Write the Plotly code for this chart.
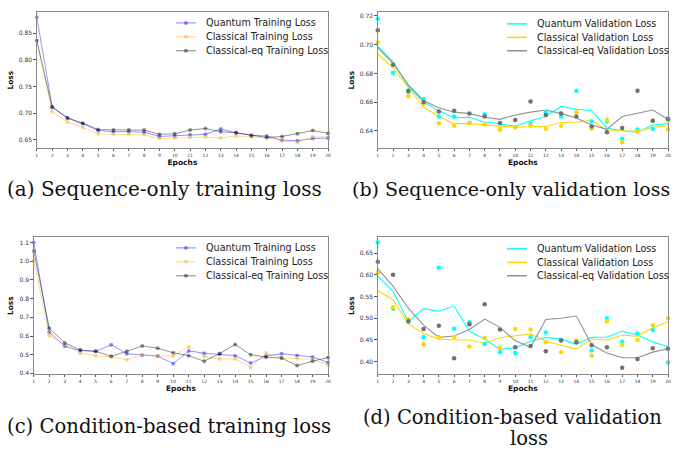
import plotly.graph_objects as go

epochs = list(range(1, 21))

# (a) Sequence-only training loss
a_quantum = [0.880, 0.712, 0.690, 0.680, 0.667, 0.665, 0.665, 0.664, 0.656, 0.657,
             0.659, 0.660, 0.670, 0.663, 0.658, 0.657, 0.649, 0.648, 0.652, 0.653]
a_classical = [0.836, 0.703, 0.683, 0.673, 0.661, 0.660, 0.660, 0.659, 0.652, 0.653,
               0.654, 0.655, 0.653, 0.657, 0.655, 0.654, 0.648, 0.645, 0.655, 0.655]
a_classical_eq = [0.836, 0.711, 0.691, 0.681, 0.669, 0.668, 0.668, 0.668, 0.660, 0.661,
                  0.668, 0.671, 0.665, 0.663, 0.658, 0.654, 0.656, 0.661, 0.667, 0.662]

# (b) Sequence-only validation loss (smoothed lines + raw points)
b_quantum_line = [0.699, 0.688, 0.671, 0.660, 0.654, 0.649, 0.6495, 0.646, 0.645, 0.643,
                  0.647, 0.650, 0.657, 0.655, 0.654, 0.642, 0.640, 0.639, 0.644, 0.645]
b_quantum_pts = [0.718, 0.6805, 0.667, 0.662, 0.650, 0.650, 0.6455, 0.6515, 0.641, 0.6425,
                 0.645, 0.653, 0.650, 0.668, 0.6465, 0.6465, 0.6345, 0.641, 0.6415, 0.6485]
b_classical_line = [0.6935, 0.684, 0.670, 0.6565, 0.650, 0.645, 0.645, 0.644, 0.643, 0.6425,
                    0.643, 0.643, 0.646, 0.646, 0.6475, 0.640, 0.640, 0.6395, 0.6425, 0.6435]
b_classical_pts = [0.7015, 0.686, 0.664, 0.659, 0.6452, 0.6435, 0.6455, 0.6445, 0.641, 0.6425,
                   0.6435, 0.6415, 0.6435, 0.653, 0.6415, 0.6475, 0.632, 0.6395, 0.647, 0.641]
b_classical_eq_line = [0.698, 0.687, 0.672, 0.661, 0.656, 0.653, 0.652, 0.6495, 0.648, 0.651,
                       0.653, 0.6545, 0.652, 0.649, 0.644, 0.641, 0.650, 0.6525, 0.6545, 0.648]
b_classical_eq_pts = [0.710, 0.686, 0.668, 0.660, 0.6535, 0.654, 0.652, 0.650, 0.6455, 0.6475,
                      0.6605, 0.651, 0.652, 0.650, 0.643, 0.639, 0.642, 0.668, 0.647, 0.648]

# (c) Condition-based training loss
c_quantum = [1.100, 0.620, 0.545, 0.522, 0.518, 0.553, 0.505, 0.497, 0.493, 0.452,
             0.520, 0.508, 0.503, 0.495, 0.455, 0.493, 0.505, 0.496, 0.488, 0.458]
c_classical = [1.005, 0.603, 0.555, 0.508, 0.495, 0.488, 0.473, 0.497, 0.493, 0.493,
               0.543, 0.490, 0.477, 0.477, 0.432, 0.510, 0.483, 0.478, 0.475, 0.445]
c_classical_eq = [1.055, 0.642, 0.563, 0.525, 0.518, 0.492, 0.518, 0.547, 0.535, 0.510,
                  0.495, 0.465, 0.506, 0.555, 0.500, 0.487, 0.482, 0.442, 0.465, 0.485]

# (d) Condition-based validation loss (smoothed lines + raw points)
d_quantum_line = [0.597, 0.562, 0.492, 0.522, 0.516, 0.528, 0.470, 0.452, 0.428, 0.432,
                  0.447, 0.456, 0.452, 0.440, 0.456, 0.457, 0.470, 0.462, 0.445, 0.435]
d_quantum_pts = [0.674, 0.522, 0.492, 0.456, 0.616, 0.476, 0.491, 0.441, 0.422, 0.420,
                 0.456, 0.467, 0.450, 0.446, 0.426, 0.500, 0.446, 0.465, 0.473, 0.398]
d_classical_line = [0.564, 0.542, 0.487, 0.465, 0.452, 0.450, 0.450, 0.442, 0.455, 0.460,
                    0.464, 0.447, 0.438, 0.429, 0.452, 0.450, 0.461, 0.459, 0.478, 0.492]
d_classical_pts = [0.605, 0.525, 0.498, 0.440, 0.457, 0.457, 0.435, 0.455, 0.432, 0.475,
                   0.474, 0.445, 0.422, 0.449, 0.414, 0.493, 0.439, 0.450, 0.484, 0.500]
d_classical_eq_line = [0.614, 0.574, 0.523, 0.484, 0.456, 0.459, 0.474, 0.498, 0.479, 0.448,
                       0.433, 0.497, 0.500, 0.505, 0.439, 0.420, 0.409, 0.409, 0.422, 0.430]
d_classical_eq_pts = [0.630, 0.600, 0.493, 0.475, 0.483, 0.408, 0.486, 0.532, 0.474, 0.433,
                      0.436, 0.424, 0.449, 0.445, 0.438, 0.433, 0.386, 0.406, 0.431, 0.430]

train_names = ["Quantum Training Loss", "Classical Training Loss", "Classical-eq Training Loss"]
val_names = ["Quantum Validation Loss", "Classical Validation Loss", "Classical-eq Validation Loss"]
captions = ["(a) Sequence-only training loss", "(b) Sequence-only validation loss",
            "(c) Condition-based training loss", "(d) Condition-based validation", "loss"]

train_colors = ["rgba(0,0,255,0.42)", "rgba(255,165,0,0.42)", "rgba(0,0,0,0.42)"]
val_line_colors = ["#00ffff", "#ffd700", "#919191"]
val_pt_colors = ["#00ffff", "#ffd700", "#707070"]

W, H = 677, 449
fig = go.Figure()

# panel geometry in pixels: (left, right, top, bottom)
panels = [(36, 329, 12, 149), (379, 671, 12, 149), (33, 329, 238, 376), (379, 671, 238, 376)]
yranges = [[0.6337, 0.8898], [0.6278, 0.7228], [0.395, 1.13], [0.371, 0.687]]
ytickvals = [[0.65, 0.70, 0.75, 0.80, 0.85], [0.64, 0.66, 0.68, 0.70, 0.72],
             [0.4, 0.5, 0.6, 0.7, 0.8, 0.9, 1.0, 1.1], [0.40, 0.45, 0.50, 0.55, 0.60, 0.65]]
ytickfmt = [".2f", ".2f", ".1f", ".2f"]
# legend layout per panel: line start, line end, text x, row centres (pixels)
legend_geo = [(176, 196, 204, [23, 37, 51]), (509, 529, 537, [24, 37.5, 51]),
              (176, 196, 204, [249, 263, 277]), (509, 529, 537, [250, 263.5, 277])]


def ax_suffix(i):
    return "" if i == 0 else str(i + 1)


def px(x):
    return x / W


def py(y):
    return 1 - y / H


# training panels
for pi, series in [(0, [a_quantum, a_classical, a_classical_eq]),
                   (2, [c_quantum, c_classical, c_classical_eq])]:
    s = ax_suffix(pi)
    for k in range(3):
        fig.add_trace(go.Scatter(
            x=epochs, y=series[k], mode="lines+markers", name=train_names[k],
            line=dict(color=train_colors[k], width=1),
            marker=dict(color=train_colors[k], size=4),
            xaxis="x" + s, yaxis="y" + s, showlegend=False, cliponaxis=False))

# validation panels
for pi, lines, pts in [(1, [b_quantum_line, b_classical_line, b_classical_eq_line],
                        [b_quantum_pts, b_classical_pts, b_classical_eq_pts]),
                       (3, [d_quantum_line, d_classical_line, d_classical_eq_line],
                        [d_quantum_pts, d_classical_pts, d_classical_eq_pts])]:
    s = ax_suffix(pi)
    for k in range(3):
        fig.add_trace(go.Scatter(
            x=epochs, y=lines[k], mode="lines", name=val_names[k],
            line=dict(color=val_line_colors[k], width=1.1),
            xaxis="x" + s, yaxis="y" + s, showlegend=False))
    for k in range(3):
        fig.add_trace(go.Scatter(
            x=epochs, y=pts[k], mode="markers", name=val_names[k] + " (epoch)",
            showlegend=False, marker=dict(color=val_pt_colors[k], size=4.5),
            xaxis="x" + s, yaxis="y" + s, cliponaxis=False))

layout = dict(width=W, height=H, margin=dict(l=0, r=0, t=0, b=0),
              paper_bgcolor="white", plot_bgcolor="white", showlegend=False,
              font=dict(family="DejaVu Sans", color="#222"))

annotations = []
shapes = []
for i, (l, r, t, b) in enumerate(panels):
    s = ax_suffix(i)
    layout["xaxis" + s] = dict(
        domain=[px(l), px(r)], range=[1, 20], tickvals=epochs, anchor="y" + s,
        showline=True, mirror=True, linecolor="#8a8a8a", linewidth=1,
        ticks="outside", ticklen=2, tickcolor="#555", showgrid=False, zeroline=False,
        tickfont=dict(size=4.5, color="#333"),
        title=dict(text="<b>Epochs</b>", font=dict(size=7.5, color="#111"), standoff=2))
    layout["yaxis" + s] = dict(
        domain=[py(b), py(t)], range=yranges[i], tickvals=ytickvals[i], anchor="x" + s,
        tickformat=ytickfmt[i],
        showline=True, mirror=True, linecolor="#8a8a8a", linewidth=1,
        ticks="outside", ticklen=2.5, tickcolor="#555", showgrid=False, zeroline=False,
        tickfont=dict(size=6, color="#333"),
        title=dict(text="<b>Loss</b>", font=dict(size=7.5, color="#111"), standoff=4))

    # legend (drawn as line samples + text)
    lx0, lx1, tx, rows = legend_geo[i]
    training = i in (0, 2)
    names = train_names if training else val_names
    for k in range(3):
        col = train_colors[k] if training else val_line_colors[k]
        shapes.append(dict(type="line", xref="paper", yref="paper",
                           x0=px(lx0), x1=px(lx1), y0=py(rows[k]), y1=py(rows[k]),
                           line=dict(color=col, width=1.2 if training else 1.5)))
        if training:
            cx = (lx0 + lx1) / 2
            shapes.append(dict(type="circle", xref="paper", yref="paper",
                               xsizemode="pixel", ysizemode="pixel",
                               xanchor=px(cx), yanchor=py(rows[k]),
                               x0=-2, x1=2, y0=-2, y1=2,
                               fillcolor=col, line=dict(width=0)))
        annotations.append(dict(
            text=names[k], x=px(tx), y=py(rows[k]), xref="paper", yref="paper",
            showarrow=False, xanchor="left", yanchor="middle",
            font=dict(family="DejaVu Sans", size=9.6, color="#222")))

# caption centre x, centre y, font size
cap_geo = [(164, 190, 20), (513, 190, 19), (169, 428, 19.6), (515, 419, 19.5), (531, 440, 19.5)]
for i, (cx, cy, fs) in enumerate(cap_geo):
    annotations.append(dict(
        text=captions[i], x=px(cx), y=py(cy), xref="paper", yref="paper",
        showarrow=False, xanchor="center", yanchor="middle",
        font=dict(family="DejaVu Serif", size=fs, color="#111")))
layout["annotations"] = annotations
layout["shapes"] = shapes

fig.update_layout(**layout)
fig.write_html("out.html", config={"displayModeBar": False},
               post_script="document.body.style.margin='0';")
